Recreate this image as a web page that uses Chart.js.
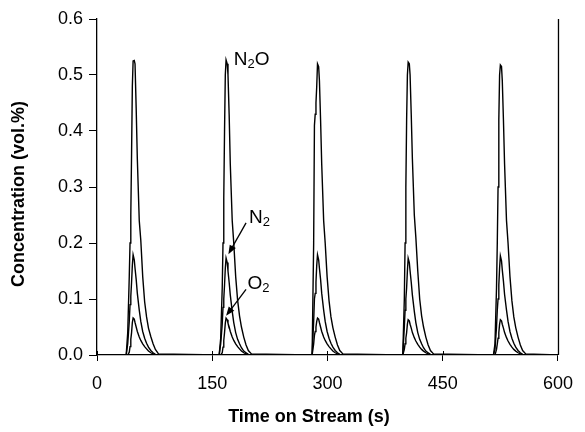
<!DOCTYPE html>
<html>
<head>
<meta charset="utf-8">
<script src="https://cdn.jsdelivr.net/npm/chart.js@4.4.0/dist/chart.umd.min.js"></script>
<style>
  html, body { margin: 0; padding: 0; background: #fff; }
  canvas { display: block; }
</style>
</head>
<body>
<canvas id="tosChart" width="585" height="432"></canvas>
<script>
// values (time in s, concentration in vol.%)
const timeSec = [
    0,
    38, 40, 42, 43, 44, 45, 46, 47, 48.5, 49.5, 51, 52.5, 55, 57, 59.5, 62, 64.5, 67, 70, 73, 76, 80,
    159, 161, 163, 164, 165, 166, 167, 168, 169.5, 170.5, 172, 173.5, 176, 178, 180.5, 183, 185.5, 188, 191, 194, 197, 201,
    278, 280, 282, 283, 284, 285, 286, 287, 288.5, 289.5, 291, 292.5, 295, 297, 299.5, 302, 304.5, 307, 310, 313, 316, 320,
    396, 398, 400, 401, 402, 403, 404, 405, 406.5, 407.5, 409, 410.5, 413, 415, 417.5, 420, 422.5, 425, 428, 431, 434, 438,
    516, 518, 520, 521, 522, 523, 524, 525, 526.5, 527.5, 529, 530.5, 533, 535, 537.5, 540, 542.5, 545, 548, 551, 554, 558,
    600
];

const n2oConc = [
    0,
    0, 0.04, 0.14, 0.2, 0.25, 0.36, 0.48, 0.525, 0.526, 0.52, 0.44, 0.35, 0.24, 0.205, 0.14, 0.095, 0.068, 0.048, 0.033, 0.02, 0.01, 0.002,
    0, 0.03, 0.12, 0.2, 0.28, 0.4, 0.5, 0.527, 0.52, 0.5, 0.43, 0.34, 0.24, 0.2, 0.14, 0.098, 0.07, 0.05, 0.032, 0.018, 0.008, 0.002,
    0, 0, 0.2, 0.41, 0.43, 0.45, 0.48, 0.52, 0.515, 0.49, 0.42, 0.34, 0.24, 0.2, 0.14, 0.097, 0.068, 0.049, 0.032, 0.018, 0.008, 0.002,
    0, 0, 0.1, 0.2, 0.3, 0.42, 0.5, 0.523, 0.52, 0.5, 0.43, 0.35, 0.25, 0.21, 0.15, 0.1, 0.07, 0.05, 0.032, 0.018, 0.008, 0.002,
    0, 0.02, 0.12, 0.2, 0.3, 0.42, 0.5, 0.518, 0.515, 0.49, 0.42, 0.34, 0.24, 0.2, 0.14, 0.097, 0.068, 0.049, 0.032, 0.018, 0.008, 0.002,
    0
];

const n2Conc = [
    0,
    0, 0.02, 0.06, 0.09, 0.105, 0.13, 0.16, 0.179, 0.17, 0.155, 0.135, 0.11, 0.08, 0.06, 0.042, 0.03, 0.021, 0.014, 0.008, 0.004, 0.001, 0,
    0, 0.02, 0.055, 0.085, 0.1, 0.125, 0.155, 0.173, 0.165, 0.15, 0.13, 0.107, 0.078, 0.058, 0.04, 0.028, 0.02, 0.013, 0.007, 0.004, 0.001, 0,
    0, 0, 0.06, 0.1, 0.11, 0.13, 0.16, 0.179, 0.17, 0.155, 0.135, 0.11, 0.08, 0.06, 0.042, 0.03, 0.021, 0.014, 0.008, 0.004, 0.001, 0,
    0, 0, 0.05, 0.08, 0.1, 0.12, 0.15, 0.173, 0.165, 0.15, 0.13, 0.107, 0.078, 0.058, 0.04, 0.028, 0.02, 0.013, 0.007, 0.004, 0.001, 0,
    0, 0.01, 0.05, 0.08, 0.1, 0.125, 0.155, 0.177, 0.168, 0.152, 0.132, 0.108, 0.08, 0.06, 0.042, 0.03, 0.021, 0.014, 0.008, 0.004, 0.001, 0,
    0
];

const o2Conc = [
    0,
    0, 0, 0.005, 0.015, 0.028, 0.04, 0.058, 0.066, 0.064, 0.058, 0.05, 0.042, 0.032, 0.026, 0.02, 0.015, 0.011, 0.007, 0.004, 0.002, 0, 0,
    0, 0, 0.004, 0.014, 0.026, 0.04, 0.057, 0.066, 0.063, 0.057, 0.05, 0.042, 0.032, 0.026, 0.02, 0.015, 0.011, 0.007, 0.004, 0.002, 0, 0,
    0, 0, 0.02, 0.035, 0.042, 0.05, 0.06, 0.066, 0.064, 0.058, 0.05, 0.042, 0.032, 0.026, 0.02, 0.015, 0.011, 0.007, 0.004, 0.002, 0, 0,
    0, 0, 0.01, 0.02, 0.03, 0.04, 0.055, 0.063, 0.061, 0.055, 0.048, 0.04, 0.031, 0.025, 0.019, 0.014, 0.01, 0.007, 0.004, 0.002, 0, 0,
    0, 0, 0.01, 0.02, 0.03, 0.04, 0.055, 0.063, 0.061, 0.055, 0.048, 0.04, 0.031, 0.025, 0.019, 0.014, 0.01, 0.007, 0.004, 0.002, 0, 0,
    0
];

const xTicks = [0, 150, 300, 450, 600];
const yTicks = [0, 0.1, 0.2, 0.3, 0.4, 0.5, 0.6];

const FONT = '"Liberation Sans", Arial, sans-serif';

function toPoints(values) {
    return timeSec.map((t, i) => ({ x: t, y: values[i] }));
}

// draws a formula like N2O with the digits as subscripts
function drawFormula(ctx, text, x, y) {
    let cx = x;
    for (const ch of text) {
        const isSub = /[0-9]/.test(ch);
        ctx.font = (isSub ? '13px ' : '19px ') + FONT;
        ctx.fillText(ch, cx, isSub ? y + 5 : y);
        cx += ctx.measureText(ch).width;
    }
}

function drawArrow(ctx, x1, y1, x2, y2) {
    const ang = Math.atan2(y2 - y1, x2 - x1);
    const len = 9, half = 3.5;
    ctx.beginPath();
    ctx.moveTo(x1, y1);
    ctx.lineTo(x2 - Math.cos(ang) * len * 0.8, y2 - Math.sin(ang) * len * 0.8);
    ctx.stroke();
    ctx.beginPath();
    ctx.moveTo(x2, y2);
    ctx.lineTo(x2 - Math.cos(ang) * len - Math.sin(ang) * half, y2 - Math.sin(ang) * len + Math.cos(ang) * half);
    ctx.lineTo(x2 - Math.cos(ang) * len + Math.sin(ang) * half, y2 - Math.sin(ang) * len - Math.cos(ang) * half);
    ctx.closePath();
    ctx.fill();
}

// labels, arrows, axis titles and the frame line on the right
const annotationPlugin = {
    id: 'annotations',
    afterDraw(chart) {
        const ctx = chart.ctx;
        const xs = chart.scales.x, ys = chart.scales.y;
        const area = chart.chartArea;
        ctx.save();
        ctx.fillStyle = '#000';
        ctx.strokeStyle = '#000';
        ctx.lineWidth = 1.3;

        // right frame line
        ctx.beginPath();
        ctx.moveTo(area.right + 0.5, area.top);
        ctx.lineTo(area.right + 0.5, area.bottom);
        ctx.stroke();

        // x ticks cross the axis slightly
        ctx.lineWidth = 1;
        xTicks.forEach(v => {
            const px = Math.round(xs.getPixelForValue(v)) + 0.5;
            ctx.beginPath();
            ctx.moveTo(px, area.bottom - 4);
            ctx.lineTo(px, area.bottom);
            ctx.stroke();
        });

        ctx.textBaseline = 'middle';
        ctx.textAlign = 'left';
        drawFormula(ctx, 'N2O', xs.getPixelForValue(178), ys.getPixelForValue(0.527));
        drawFormula(ctx, 'N2', xs.getPixelForValue(198), ys.getPixelForValue(0.245));
        drawFormula(ctx, 'O2', xs.getPixelForValue(196), ys.getPixelForValue(0.127));

        ctx.lineWidth = 1.3;
        drawArrow(ctx, xs.getPixelForValue(194), ys.getPixelForValue(0.236),
                       xs.getPixelForValue(171), ys.getPixelForValue(0.18));
        drawArrow(ctx, xs.getPixelForValue(194), ys.getPixelForValue(0.117),
                       xs.getPixelForValue(168), ys.getPixelForValue(0.07));

        // axis titles
        ctx.font = 'bold 18px ' + FONT;
        ctx.textAlign = 'center';
        ctx.fillText('Time on Stream (s)', 309, 417);
        ctx.translate(19, 194);
        ctx.rotate(-Math.PI / 2);
        ctx.fillText('Concentration (vol.%)', 0, 0);
        ctx.restore();
    }
};

function lineDataset(label, values) {
    return {
        label: label,
        data: toPoints(values),
        borderColor: '#000',
        borderWidth: 1.4,
        pointRadius: 0,
        tension: 0,
        fill: false
    };
}

const ctx = document.getElementById('tosChart');
new Chart(ctx.getContext('2d'), {
    type: 'line',
    data: {
        datasets: [
            lineDataset('N2O', n2oConc),
            lineDataset('N2', n2Conc),
            lineDataset('O2', o2Conc)
        ]
    },
    options: {
        responsive: false,
        animation: false,
        devicePixelRatio: 1,
        layout: { padding: { top: 19, right: 19, left: 0, bottom: 0 } },
        plugins: {
            legend: { display: false },
            tooltip: { enabled: false },
            title: { display: false }
        },
        scales: {
            x: {
                type: 'linear',
                min: 0,
                max: 600,
                afterFit: s => { s.height = 77; },
                afterBuildTicks: s => { s.ticks = xTicks.map(v => ({ value: v })); },
                grid: { drawOnChartArea: false, drawTicks: true, tickLength: 6, color: '#000' },
                border: { display: true, color: '#000', width: 1.3 },
                ticks: {
                    color: '#000',
                    padding: 12,
                    maxRotation: 0,
                    font: { family: FONT, size: 18 },
                    callback: v => String(v)
                }
            },
            y: {
                type: 'linear',
                min: 0,
                max: 0.6,
                afterFit: s => { s.width = 97; },
                afterBuildTicks: s => { s.ticks = yTicks.map(v => ({ value: v })); },
                grid: { drawOnChartArea: false, drawTicks: true, tickLength: 8, color: '#000' },
                border: { display: true, color: '#000', width: 1.3 },
                ticks: {
                    color: '#000',
                    padding: 6,
                    font: { family: FONT, size: 18 },
                    callback: v => v.toFixed(1)
                }
            }
        }
    },
    plugins: [annotationPlugin]
});
</script>
</body>
</html>
